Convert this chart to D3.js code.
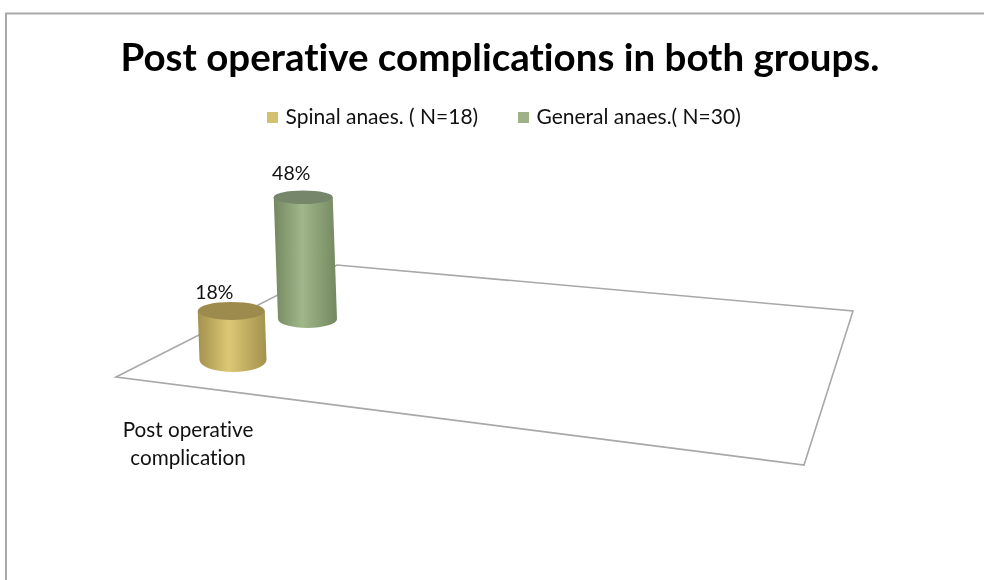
<!DOCTYPE html>
<html>
<head>
<meta charset="utf-8">
<script src="https://cdnjs.cloudflare.com/ajax/libs/d3/7.8.5/d3.min.js"></script>
<style>
  html, body { margin: 0; padding: 0; background: #fff; }
  svg { display: block; filter: blur(0.45px); }
  text { font-family: Lato, "Open Sans", sans-serif; fill: #111; font-variant-ligatures: none; }
</style>
</head>
<body>
<script>
var WIDTH = 984,
    HEIGHT = 580;

var title = "Post operative complications in both groups.";
var categoryLines = ["Post operative", "complication"];
var seriesNames = ["Spinal anaes. ( N=18)", "General anaes.( N=30)"];
var seriesValues = [18, 48];
var valueLabels = ["18%", "48%"];
var seriesEdge = ["#a3914f", "#74885f"];
var seriesMid = ["#dcc873", "#a0b78a"];
var seriesTop = ["#9d8b4e", "#75866b"];
var legendColors = ["#d3c16f", "#9fb287"];

var svg = d3.select("body").append("svg")
      .attr("width", WIDTH)
      .attr("height", HEIGHT);

// chart frame, only top and left show in the crop
svg.append("path")
  .attr("d", "M6,580V13.5H984")
  .attr("fill", "none")
  .attr("stroke", "#a9a9a9")
  .attr("stroke-width", 2);

svg.append("text")
  .attr("x", 500)
  .attr("y", 71)
  .attr("text-anchor", "middle")
  .style("font-size", "38.5px")
  .style("font-weight", 700)
  .style("fill", "#000")
  .text(title);

// Legend
var legendX = d3.scaleOrdinal().domain(seriesNames).range([267, 518]);

var legend = svg.selectAll(".legend").data(seriesNames)
  .enter().append("g")
  .attr("class", "legend")
  .attr("transform", function(d) { return "translate(" + legendX(d) + ",112)"; });

legend.append("rect")
  .attr("width", 11)
  .attr("height", 11)
  .attr("fill", function(d, i) { return legendColors[i]; });

legend.append("text")
  .attr("x", 18.5)
  .attr("y", 12)
  .style("font-size", "21px")
  .text(function(d) { return d; });

// Floor of the 3d plot
var floor = [[116, 377], [337, 265], [853, 311], [804, 465]];

svg.append("path")
  .attr("d", d3.line()(floor) + "Z")
  .attr("fill", "#fff")
  .attr("stroke", "#a8a8a8")
  .attr("stroke-width", 1.6);

// series sit one behind the other, so position and size go by depth
var depth = d3.scaleLinear().domain([0, 1]);
var baseX = depth.copy().range([233, 307.5]),
    baseY = depth.copy().range([360, 319]),
    radius = depth.copy().range([33.5, 29.5]),
    capRy = depth.copy().range([12, 9]),
    shrink = depth.copy().range([1, 0.93]),
    labelDx = depth.copy().range([-17, -12]),
    labelDy = depth.copy().range([-12, -17]);

var height = d3.scaleLinear().domain([0, 48]).range([0, 131]);

var defs = svg.append("defs");

var grad = defs.selectAll("linearGradient").data(seriesValues)
  .enter().append("linearGradient")
  .attr("id", function(d, i) { return "cyl" + i; })
  .attr("x1", "0%")
  .attr("x2", "100%");

grad.append("stop").attr("offset", "0%").attr("stop-color", function(d, i) { return seriesEdge[i]; });
grad.append("stop").attr("offset", "45%").attr("stop-color", function(d, i) { return seriesMid[i]; });
grad.append("stop").attr("offset", "100%").attr("stop-color", function(d, i) { return seriesEdge[i]; });

var cyl = svg.selectAll(".cyl").data(seriesValues)
  .enter().append("g")
  .attr("class", "cyl");

function topY(d, i) { return baseY(i) - height(d) * shrink(i); }
function topX(d, i) { return baseX(i) - (baseY(i) - topY(d, i)) * 0.035; }

cyl.append("path")
  .attr("fill", function(d, i) { return "url(#cyl" + i + ")"; })
  .attr("d", function(d, i) {
    var r = radius(i), ry = capRy(i), tx = topX(d, i), ty = topY(d, i),
        bx = baseX(i), by = baseY(i);
    return "M" + (tx - r) + "," + ty +
      "L" + (bx - r) + "," + by +
      "A" + r + "," + ry + " 0 0 0 " + (bx + r) + "," + by +
      "L" + (tx + r) + "," + ty + "Z";
  });

cyl.append("ellipse")
  .attr("cx", topX)
  .attr("cy", topY)
  .attr("rx", function(d, i) { return radius(i); })
  .attr("ry", function(d, i) { return capRy(i) * 0.75; })
  .attr("fill", function(d, i) { return seriesTop[i]; });

// labels sit up and to the left of the caps
cyl.append("text")
  .attr("x", function(d, i) { return topX(d, i) + labelDx(i); })
  .attr("y", function(d, i) { return topY(d, i) + labelDy(i); })
  .attr("text-anchor", "middle")
  .style("font-size", "19.5px")
  .text(function(d, i) { return valueLabels[i]; });

// Category label
svg.selectAll(".cat").data(categoryLines)
  .enter().append("text")
  .attr("class", "cat")
  .attr("x", 188)
  .attr("y", function(d, i) { return 437 + i * 28; })
  .attr("text-anchor", "middle")
  .style("font-size", "20.7px")
  .text(function(d) { return d; });
</script>
</body>
</html>
